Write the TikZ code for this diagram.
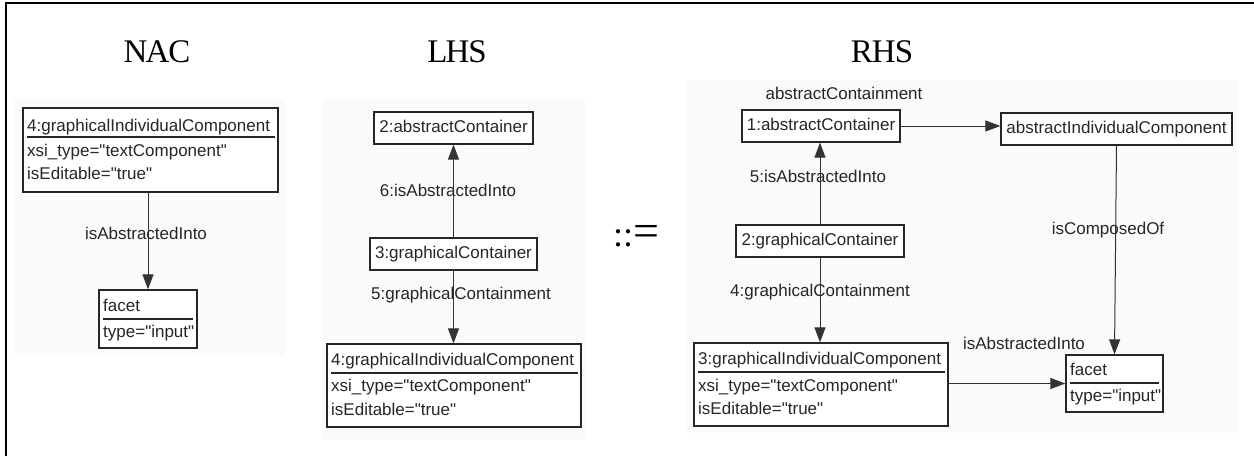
\documentclass[tikz,border=0pt]{standalone}
\usepackage{fontspec}
\setmainfont{Liberation Serif}
\newfontfamily\lsans{Liberation Sans}
\usetikzlibrary{arrows.meta}
\tikzset{
  lbl/.style={font=\lsans\fontsize{17}{20}\selectfont, text=black!85, inner sep=0pt, text height=12pt, text depth=3.5pt},
  umlbox/.style={draw=black!85, line width=1.3pt, inner sep=0pt, fill=white},
  sepline/.style={draw=black!85, line width=1.2pt},
  conn/.style={draw=black!80, line width=1pt, -{Triangle[length=15pt,width=11pt]}},
  panel/.style={fill=black!2, draw=none},
  ttl/.style={font=\fontsize{33}{33}\selectfont, inner sep=0pt},
  frameline/.style={draw=black, line width=2pt}
}
\begin{document}
\begin{tikzpicture}[x=1pt,y=-1pt]
\useasboundingbox (0,0) rectangle (1254,456);
% outer frame (left and top only)
\draw[frameline] (6,456) -- (6,3) -- (1254,3);
% panel backgrounds
\fill[panel] (14,100) rectangle (285,355);
\fill[panel] (322,100) rectangle (585,440);
\fill[panel] (687,80) rectangle (1237,433);
% titles
\node[ttl] (tNAC) at (157,52) {N\kern-2ptA\kern-1ptC};
\node[ttl] (tLHS) at (457,52) {L\kern-2ptH\kern-1ptS};
\node[ttl] (tRHS) at (882,52) {R\kern-1ptH\kern-1ptS};
\node[inner sep=0pt] (assign) at (636,236) {\fontsize{36}{36}\selectfont::\fontsize{46}{46}\selectfont=};

% ===== NAC =====
\node[umlbox, minimum width=255pt, minimum height=84pt] (nacA) at (150.5,150) {};
\node[lbl, anchor=west] (nacAh) at (27,127) {4:graphicalIndividualComponent};
\draw[sepline] (27,137) -- (275,137);
\node[lbl, anchor=west] (nacA1) at (27,152) {xsi\_type="textComponent"};
\node[lbl, anchor=west] (nacA2) at (27,175) {isEditable="true"};
\node[umlbox, minimum width=98pt, minimum height=58pt] (nacF) at (148,319) {};
\node[lbl, anchor=west] (nacFh) at (103,307) {facet};
\draw[sepline] (103,319) -- (193,319);
\node[lbl, anchor=west] (nacF1) at (103,333) {type="input"};
\draw[conn] (nacF.north |- nacA.south) -- (nacF.north);
\node[lbl] (nacL) at (146,235) {isAbstractedInto};

% ===== LHS =====
\node[umlbox, lbl, minimum width=159pt, minimum height=32pt] (lhsA) at (453.5,128) {2:abstractContainer};
\node[umlbox, lbl, minimum width=167pt, minimum height=32pt] (lhsG) at (453.5,254) {3:graphicalContainer};
\node[umlbox, minimum width=254pt, minimum height=83pt] (lhsC) at (454,385.5) {};
\node[lbl, anchor=west] (lhsCh) at (331,361) {4:graphicalIndividualComponent};
\draw[sepline] (331,373) -- (578,373);
\node[lbl, anchor=west] (lhsC1) at (331,387) {xsi\_type="textComponent"};
\node[lbl, anchor=west] (lhsC2) at (331,411) {isEditable="true"};
\draw[conn] (lhsG.north) -- (lhsA.south);
\draw[conn] (lhsG.south) -- (lhsC.north -| lhsG.south);
\node[lbl] (lhsL1) at (448,192) {6:isAbstractedInto};
\node[lbl] (lhsL2) at (461,295) {5:graphicalContainment};

% ===== RHS =====
\node[umlbox, lbl, minimum width=158pt, minimum height=32pt] (rA) at (821,126) {1:abstractContainer};
\node[umlbox, lbl, minimum width=231pt, minimum height=32pt] (rI) at (1116.5,129) {abstractIndividualComponent};
\node[umlbox, lbl, minimum width=168pt, minimum height=32pt] (rG) at (820,241) {2:graphicalContainer};
\node[umlbox, minimum width=254pt, minimum height=83pt] (rC) at (821,384.5) {};
\node[lbl, anchor=west] (rCh) at (698,360) {3:graphicalIndividualComponent};
\draw[sepline] (698,372) -- (945,372);
\node[lbl, anchor=west] (rC1) at (698,387) {xsi\_type="textComponent"};
\node[lbl, anchor=west] (rC2) at (698,410) {isEditable="true"};
\node[umlbox, minimum width=97pt, minimum height=57pt] (rF) at (1114.5,383.5) {};
\node[lbl, anchor=west] (rFh) at (1070,371) {facet};
\draw[sepline] (1070,383) -- (1159,383);
\node[lbl, anchor=west] (rF1) at (1070,397) {type="input"};
\draw[conn] (rA.east) -- (rA.east -| rI.west);
\draw[conn] (rG.north) -- (rA.south -| rG.north);
\draw[conn] (rG.south) -- (rC.north -| rG.south);
\draw[conn] (rI.south) -- (rF.north);
\draw[conn] (rC.east |- rF.west) -- (rF.west);
\node[lbl] (rL1) at (844,95) {abstractContainment};
\node[lbl] (rL2) at (818,178) {5:isAbstractedInto};
\node[lbl] (rL3) at (820,292) {4:graphicalContainment};
\node[lbl] (rL4) at (1108,230) {isComposedOf};
\node[lbl] (rL5) at (1024,345) {isAbstractedInto};
\end{tikzpicture}
\end{document}
